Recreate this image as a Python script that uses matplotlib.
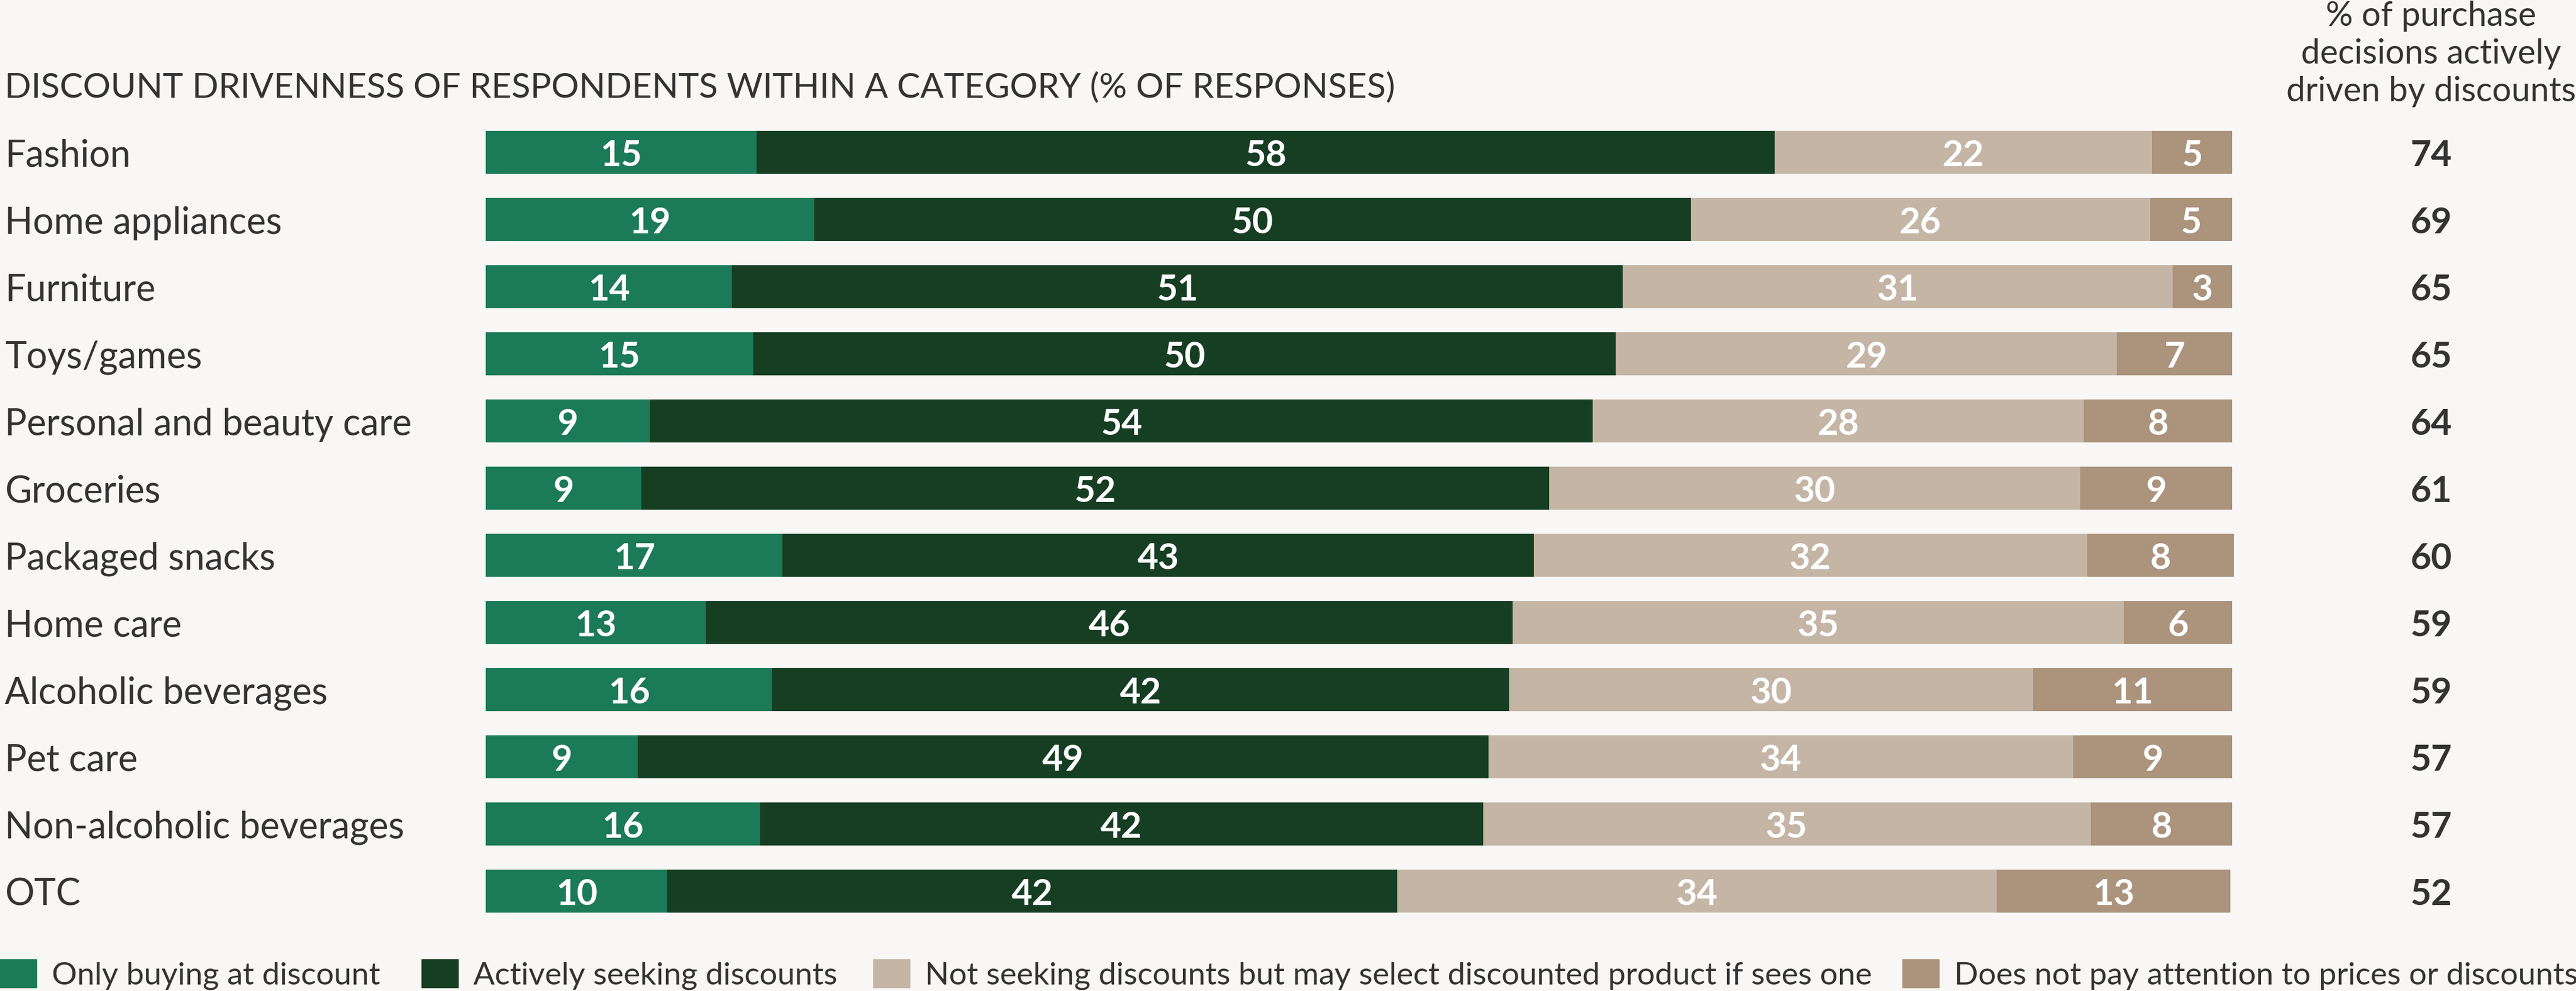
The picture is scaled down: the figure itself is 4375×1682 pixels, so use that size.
import matplotlib
matplotlib.use("Agg")
import matplotlib.pyplot as plt
import numpy as np
from matplotlib.transforms import blended_transform_factory
from matplotlib.patches import Rectangle

categories = ["Fashion", "Home appliances", "Furniture", "Toys/games",
              "Personal and beauty care", "Groceries", "Packaged snacks",
              "Home care", "Alcoholic beverages", "Pet care",
              "Non-alcoholic beverages", "OTC"]

# segment shares
only_discount = [15.5, 18.8, 14.1, 15.3, 9.4, 8.9, 17.0, 12.6, 16.4, 8.7, 15.7, 10.4]
actively_seeking = [58.3, 50.2, 51.0, 49.4, 54.0, 52.0, 43.0, 46.2, 42.2, 48.7, 41.4, 41.8]
not_seeking = [21.6, 26.3, 31.5, 28.7, 28.1, 30.4, 31.7, 35.0, 30.0, 33.5, 34.8, 34.3]
no_attention = [4.6, 4.7, 3.4, 6.6, 8.5, 8.7, 8.4, 6.2, 11.4, 9.1, 8.1, 13.4]

# printed labels
only_discount_lbl = [15, 19, 14, 15, 9, 9, 17, 13, 16, 9, 16, 10]
actively_seeking_lbl = [58, 50, 51, 50, 54, 52, 43, 46, 42, 49, 42, 42]
not_seeking_lbl = [22, 26, 31, 29, 28, 30, 32, 35, 30, 34, 35, 34]
no_attention_lbl = [5, 5, 3, 7, 8, 9, 8, 6, 11, 9, 8, 13]

driven_total = [74, 69, 65, 65, 64, 61, 60, 59, 59, 57, 57, 52]

series_names = ["Only buying at discount", "Actively seeking discounts",
                "Not seeking discounts but may select discounted product if sees one",
                "Does not pay attention to prices or discounts"]
colors = ["#1B7A57", "#163E22", "#C5B5A5", "#AB937C"]

title = "DISCOUNT DRIVENNESS OF RESPONDENTS WITHIN A CATEGORY (% OF RESPONSES)"
right_header = ["% of purchase", "decisions actively", "driven by discounts"]

BG = "#F8F7F5"
TXT = "#333333"
FONT = "Lato"

W, H = 4375, 1683
fig = plt.figure(figsize=(W / 100, H / 100), dpi=100, facecolor=BG)

# bar axes in pixel placement
x0, x1 = 825, 3794
top_px, bot_px = 202.5, 1570.5
ax = fig.add_axes([x0 / W, (H - bot_px) / H, (x1 - x0) / W, (bot_px - top_px) / H])
ax.set_facecolor(BG)
ax.patch.set_alpha(0)

y = np.arange(len(categories))
vals = [only_discount, actively_seeking, not_seeking, no_attention]
lbls = [only_discount_lbl, actively_seeking_lbl, not_seeking_lbl, no_attention_lbl]
left = np.zeros(len(categories))
for v, l, c in zip(vals, lbls, colors):
    v = np.array(v)
    ax.barh(y, v, left=left, height=0.64, color=c, edgecolor="none")
    for yi, (lv, vv, ll) in enumerate(zip(left, v, l)):
        ax.text(lv + vv / 2, yi, str(ll), ha="center", va="center_baseline",
                color="white", fontsize=44, fontweight="bold", family=FONT)
    left = left + v

total = left.max()
ax.set_xlim(0, total)
ax.set_ylim(len(categories) - 0.5, -0.5)
ax.axis("off")

trans = blended_transform_factory(fig.transFigure, ax.transData)
for yi, cat in enumerate(categories):
    ax.text(8 / W, yi, cat, transform=trans, ha="left", va="center_baseline",
            color=TXT, fontsize=45, family=FONT)
    ax.text(4129 / W, yi, str(driven_total[yi]), transform=trans, ha="center",
            va="center_baseline", color=TXT, fontsize=44, fontweight="bold", family=FONT)

fig.text(8 / W, 1 - 165 / H, title, ha="left", va="baseline", color=TXT,
         fontsize=42.5, family=FONT)
for i, line in enumerate(right_header):
    fig.text(4129 / W, 1 - (44 + 64 * i) / H, line, ha="center", va="baseline",
             color=TXT, fontsize=41.5, family=FONT)

# legend
leg_sq_x = [0, 716, 1483, 3231]
for sx, name, c in zip(leg_sq_x, series_names, colors):
    fig.patches.append(Rectangle((sx / W, 1 - 1677 / H), 62 / W, 48 / H,
                                 transform=fig.transFigure, color=c, figure=fig))
    fig.text((sx + 88) / W, 1 - 1671 / H, name, ha="left",
             va="baseline", color=TXT, fontsize=38.5, family=FONT)

fig.savefig("out.png", dpi=100, facecolor=BG)
